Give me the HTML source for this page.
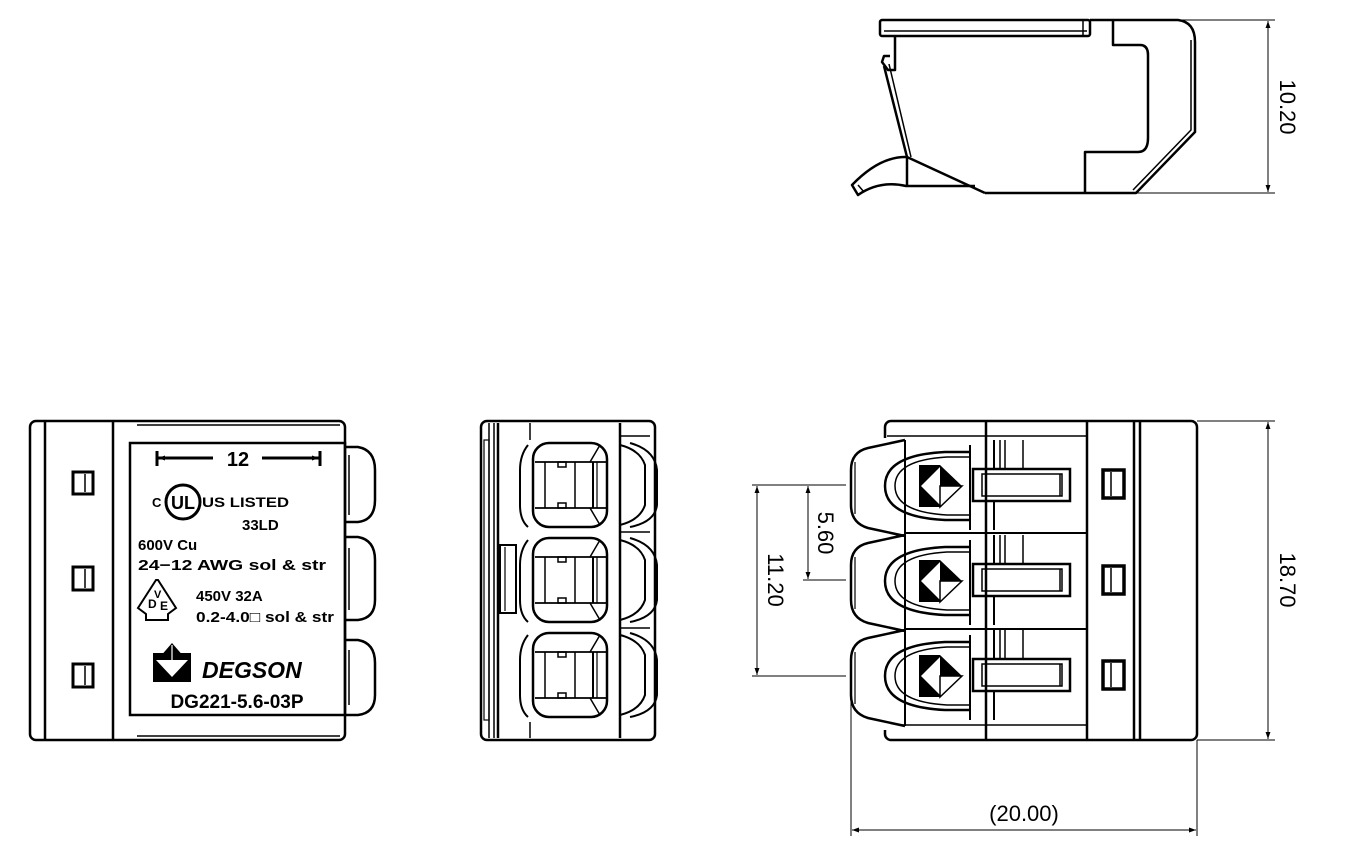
<!DOCTYPE html>
<html><head><meta charset="utf-8"><style>
html,body{margin:0;padding:0;background:#fff;}
svg{display:block;}
text{font-family:"Liberation Sans",sans-serif;}
</style></head><body>
<svg width="1372" height="868" viewBox="0 0 1372 868" xmlns="http://www.w3.org/2000/svg">
<defs>
<marker id="ar" viewBox="0 0 10 10" refX="10" refY="5" markerWidth="14" markerHeight="7" orient="auto-start-reverse" markerUnits="userSpaceOnUse"><path d="M0,1.5 L10,5 L0,8.5 z" fill="#000"/></marker>
<g id="lever">
  <path d="M905,440 L868,448 Q851,452 851,470 L851,505 Q851,523 868,528 L905,536" fill="none" stroke="#000" stroke-width="2.5"/>
  <line x1="855" y1="462" x2="855" y2="514" stroke="#000" stroke-width="1.2"/>
  <line x1="905" y1="440" x2="905" y2="536" stroke="#000" stroke-width="2"/>
  <path d="M970,452 L945,452 Q885,455 885,486 Q885,517 945,520 L970,520" fill="none" stroke="#000" stroke-width="2.5"/>
  <path d="M970,457 L947,457 Q895,460 895,486 Q895,512 947,515 L970,515" fill="none" stroke="#000" stroke-width="1.5"/>
  <rect x="919" y="465" width="21" height="42" fill="#000"/>
  <polygon points="940,467 921,486 940,505" fill="#fff"/>
  <polygon points="940,465 962,486 940,486" fill="#000"/>
  <polygon points="940,486 962,486 940,507" fill="#fff" stroke="#000" stroke-width="1.5"/>
  <line x1="970" y1="445" x2="970" y2="530" stroke="#000" stroke-width="2"/>
  <rect x="973" y="469" width="97" height="32" fill="none" stroke="#000" stroke-width="2.5"/>
  <rect x="982" y="474" width="80" height="22" fill="none" stroke="#000" stroke-width="1.5"/>
  <line x1="1060" y1="474" x2="1060" y2="496" stroke="#000" stroke-width="1.5"/>
  <line x1="994" y1="440" x2="994" y2="469" stroke="#000" stroke-width="2"/>
  <line x1="1000" y1="440" x2="1000" y2="469" stroke="#000" stroke-width="1.5"/>
  <line x1="1005" y1="440" x2="1005" y2="469" stroke="#000" stroke-width="1.5"/>
  <line x1="1023" y1="440" x2="1023" y2="469" stroke="#000" stroke-width="1.5"/>
  <line x1="994" y1="501" x2="994" y2="530" stroke="#000" stroke-width="2"/>
</g>
<g id="cell">
  <rect x="533" y="443" width="74" height="84" rx="16" fill="none" stroke="#000" stroke-width="2.5"/>
  <line x1="535" y1="462" x2="606" y2="462" stroke="#000" stroke-width="1.8"/>
  <line x1="535" y1="508" x2="606" y2="508" stroke="#000" stroke-width="1.8"/>
  <line x1="545" y1="462" x2="545" y2="508" stroke="#000" stroke-width="1.5"/>
  <line x1="575" y1="462" x2="575" y2="508" stroke="#000" stroke-width="1.5"/>
  <line x1="593" y1="462" x2="593" y2="508" stroke="#000" stroke-width="2"/>
  <line x1="597" y1="462" x2="597" y2="508" stroke="#000" stroke-width="1.2"/>
  <rect x="558" y="462" width="8" height="5" fill="none" stroke="#000" stroke-width="1.5"/>
  <rect x="558" y="503" width="8" height="5" fill="none" stroke="#000" stroke-width="1.5"/>
  <path d="M590,462 L600,445 M590,508 L600,525" stroke="#000" stroke-width="1.5"/>
  <path d="M620,445 Q640,450 645,465 L645,505 Q640,520 620,525" fill="none" stroke="#000" stroke-width="2"/>
  <path d="M630,443 Q655,450 657,470 L657,505 Q655,522 630,527" fill="none" stroke="#000" stroke-width="2"/>
  <path d="M528,445 Q520,455 520,470 L520,505 Q520,520 528,527" fill="none" stroke="#000" stroke-width="2"/>
</g>
</defs>

<g fill="none" stroke="#000" stroke-width="2.5" stroke-linejoin="round">
  <rect x="880" y="20" width="210" height="16" rx="2"/>
  <line x1="884" y1="31" x2="1087" y2="31" stroke-width="1.5"/>
  <line x1="1083" y1="20" x2="1083" y2="36" stroke-width="1.5"/>
  <path d="M1090,20 L1178,20 Q1195,22 1195,42 L1195,132 L1136,193 L985,193"/>
  <path d="M1191,40 L1191,130 L1133,190" stroke-width="1.5"/>
  <path d="M1113,20 L1113,45 L1140,45 Q1148,45 1148,55 L1148,138 Q1148,152 1138,152 L1085,152 L1085,193"/>
  <path d="M895,36 L895,70 L888,70 L882,62 L884,56 L890,56"/>
  <path d="M884,66 L907,157 L985,193"/>
  <path d="M889,64 L911,157" stroke-width="1.5"/>
  <path d="M907,157 Q880,156 852,185 L858,195 Q880,180 906,186 L975,186" />
  <line x1="907" y1="157" x2="907" y2="187"/>
  <line x1="858" y1="185" x2="864" y2="192" stroke-width="1.5"/>
</g>
<g stroke="#000" stroke-width="1">
  <line x1="1180" y1="20" x2="1275" y2="20"/>
  <line x1="1137" y1="193" x2="1275" y2="193"/>
  <line x1="1268" y1="21" x2="1268" y2="192" marker-start="url(#ar)" marker-end="url(#ar)"/>
</g>
<text x="1280" y="107" font-size="22" transform="rotate(90 1280 107)" text-anchor="middle" fill="#000">10.20</text>

<g fill="none" stroke="#000" stroke-width="2.5">
  <rect x="30" y="421" width="315" height="319" rx="6"/>
  <line x1="45" y1="422" x2="45" y2="739"/>
  <line x1="113" y1="422" x2="113" y2="739"/>
  <line x1="137" y1="425" x2="340" y2="425" stroke-width="1.5"/>
  <line x1="137" y1="736" x2="340" y2="736" stroke-width="1.5"/>
  <rect x="130" y="443" width="215" height="272"/>
  <path d="M345,447 L358,447 Q375,450 375,470 L375,500 Q375,520 358,522 L345,522"/>
  <path d="M345,537 L358,537 Q375,540 375,560 L375,600 Q375,618 358,620 L345,620"/>
  <path d="M345,640 L358,640 Q375,643 375,663 L375,695 Q375,713 358,715 L345,715"/>
  <line x1="349" y1="455" x2="349" y2="515" stroke-width="1.5"/>
  <line x1="349" y1="548" x2="349" y2="610" stroke-width="1.5"/>
  <line x1="349" y1="650" x2="349" y2="705" stroke-width="1.5"/>
</g>
<g fill="none" stroke="#000">
  <rect x="73" y="472" width="20" height="22" stroke-width="3"/><line x1="85" y1="474" x2="85" y2="492" stroke-width="1.5"/>
  <rect x="73" y="567" width="20" height="23" stroke-width="3"/><line x1="85" y1="569" x2="85" y2="588" stroke-width="1.5"/>
  <rect x="73" y="664" width="20" height="23" stroke-width="3"/><line x1="85" y1="666" x2="85" y2="685" stroke-width="1.5"/>
</g>
<g stroke="#000" stroke-width="3">
  <line x1="157" y1="451" x2="157" y2="466"/>
  <line x1="320" y1="451" x2="320" y2="466"/>
  <line x1="158" y1="458" x2="213" y2="458" marker-start="url(#ar)"/>
  <line x1="262" y1="458" x2="319" y2="458" marker-end="url(#ar)"/>
</g>
<text x="238" y="466" font-size="20" font-weight="bold" text-anchor="middle">12</text>
<circle cx="183" cy="502" r="17" fill="none" stroke="#000" stroke-width="3"/>
<text x="183" y="509" font-size="18" font-weight="bold" text-anchor="middle">UL</text>
<text x="152" y="507" font-size="13" font-weight="bold">C</text>
<text x="202" y="507" font-size="14" font-weight="bold" textLength="87" lengthAdjust="spacingAndGlyphs">US LISTED</text>
<text x="242" y="530" font-size="15" font-weight="bold">33LD</text>
<text x="138" y="550" font-size="15" font-weight="bold">600V Cu</text>
<text x="138" y="570" font-size="15" font-weight="bold" textLength="188" lengthAdjust="spacingAndGlyphs">24−12 AWG  sol &amp; str</text>
<path d="M156,580 L138,608 L146,614 L146,620 L168,620 L168,614 L176,608 L158,580 Z" fill="none" stroke="#000" stroke-width="2"/>
<text x="148" y="608" font-size="12" font-weight="bold">D</text>
<text x="154" y="598" font-size="11" font-weight="bold">V</text>
<text x="160" y="610" font-size="12" font-weight="bold">E</text>
<text x="196" y="601" font-size="15" font-weight="bold">450V 32A</text>
<text x="196" y="622" font-size="15" font-weight="bold" textLength="138" lengthAdjust="spacingAndGlyphs">0.2-4.0□ sol &amp; str</text>
<rect x="153" y="653" width="38" height="29" fill="#000"/>
<polygon points="153,665 172,643 191,665" fill="#000"/>
<polygon points="156,660 172,677 188,660" fill="#fff"/>
<line x1="172" y1="645" x2="172" y2="660" stroke="#fff" stroke-width="1.2"/>
<text x="202" y="678" font-size="23" font-weight="bold" font-style="italic">DEGSON</text>
<text x="237" y="708" font-size="19" font-weight="bold" text-anchor="middle">DG221-5.6-03P</text>

<g fill="none" stroke="#000" stroke-width="2.5">
  <rect x="481" y="421" width="174" height="319" rx="6"/>
  <line x1="489" y1="423" x2="489" y2="738" stroke-width="1.5"/>
  <line x1="494" y1="423" x2="494" y2="738" stroke-width="1.5"/>
  <line x1="498" y1="423" x2="498" y2="738"/>
  <rect x="484" y="440" width="5" height="280" stroke-width="1.2"/>
  <rect x="500" y="545" width="16" height="68" stroke-width="2"/>
  <line x1="505" y1="547" x2="505" y2="611" stroke-width="1.2"/>
  <line x1="620" y1="423" x2="620" y2="738"/>
  <line x1="620" y1="436" x2="650" y2="436" stroke-width="1.5"/>
  <line x1="620" y1="532" x2="650" y2="532" stroke-width="1.5"/>
  <line x1="620" y1="628" x2="650" y2="628" stroke-width="1.5"/>
  <line x1="530" y1="423" x2="530" y2="440" stroke-width="1.5"/>
  <line x1="530" y1="722" x2="530" y2="738" stroke-width="1.5"/>
</g>
<use href="#cell"/>
<use href="#cell" y="95"/>
<use href="#cell" y="190"/>

<g fill="none" stroke="#000" stroke-width="2.5">
  <rect x="885" y="421" width="312" height="319" rx="6"/>
  <line x1="887" y1="436" x2="985" y2="436" stroke-width="1.5"/>
  <line x1="887" y1="725" x2="985" y2="725" stroke-width="1.5"/>
  <line x1="986" y1="422" x2="986" y2="739"/>
  <line x1="1087" y1="422" x2="1087" y2="739"/>
  <line x1="1134" y1="422" x2="1134" y2="739"/>
  <line x1="1140" y1="422" x2="1140" y2="739"/>
  <line x1="905" y1="533" x2="1087" y2="533" stroke-width="2"/>
  <line x1="905" y1="629" x2="1087" y2="629" stroke-width="2"/>
  <line x1="986" y1="436" x2="1087" y2="436" stroke-width="1.5"/>
  <line x1="986" y1="725" x2="1087" y2="725" stroke-width="1.5"/>
  <rect x="1103" y="470" width="21" height="28" stroke-width="3.5"/>
  <rect x="1103" y="566" width="21" height="28" stroke-width="3.5"/>
  <rect x="1103" y="661" width="21" height="28" stroke-width="3.5"/>
  <line x1="1111" y1="472" x2="1111" y2="496" stroke-width="1.5"/>
  <line x1="1111" y1="568" x2="1111" y2="592" stroke-width="1.5"/>
  <line x1="1111" y1="663" x2="1111" y2="687" stroke-width="1.5"/>
</g>
<rect x="852" y="438" width="50" height="292" fill="#fff"/>
<use href="#lever"/>
<use href="#lever" y="95"/>
<use href="#lever" y="190"/>

<g stroke="#000" stroke-width="1">
  <line x1="1197" y1="421" x2="1275" y2="421"/>
  <line x1="1197" y1="740" x2="1275" y2="740"/>
  <line x1="1268" y1="422" x2="1268" y2="739" marker-start="url(#ar)" marker-end="url(#ar)"/>
  <line x1="752" y1="485" x2="846" y2="485"/>
  <line x1="803" y1="580" x2="846" y2="580"/>
  <line x1="752" y1="676" x2="846" y2="676"/>
  <line x1="757" y1="486" x2="757" y2="675" marker-start="url(#ar)" marker-end="url(#ar)"/>
  <line x1="808" y1="486" x2="808" y2="579" marker-start="url(#ar)" marker-end="url(#ar)"/>
  <line x1="851" y1="700" x2="851" y2="836"/>
  <line x1="1197" y1="740" x2="1197" y2="836"/>
  <line x1="852" y1="830" x2="1196" y2="830" marker-start="url(#ar)" marker-end="url(#ar)"/>
</g>
<text x="1280" y="580" font-size="22" transform="rotate(90 1280 580)" text-anchor="middle">18.70</text>
<text x="768" y="580" font-size="22" transform="rotate(90 768 580)" text-anchor="middle">11.20</text>
<text x="818" y="533" font-size="22" transform="rotate(90 818 533)" text-anchor="middle">5.60</text>
<text x="1024" y="821" font-size="22" text-anchor="middle">(20.00)</text>
</svg>
</body></html>
